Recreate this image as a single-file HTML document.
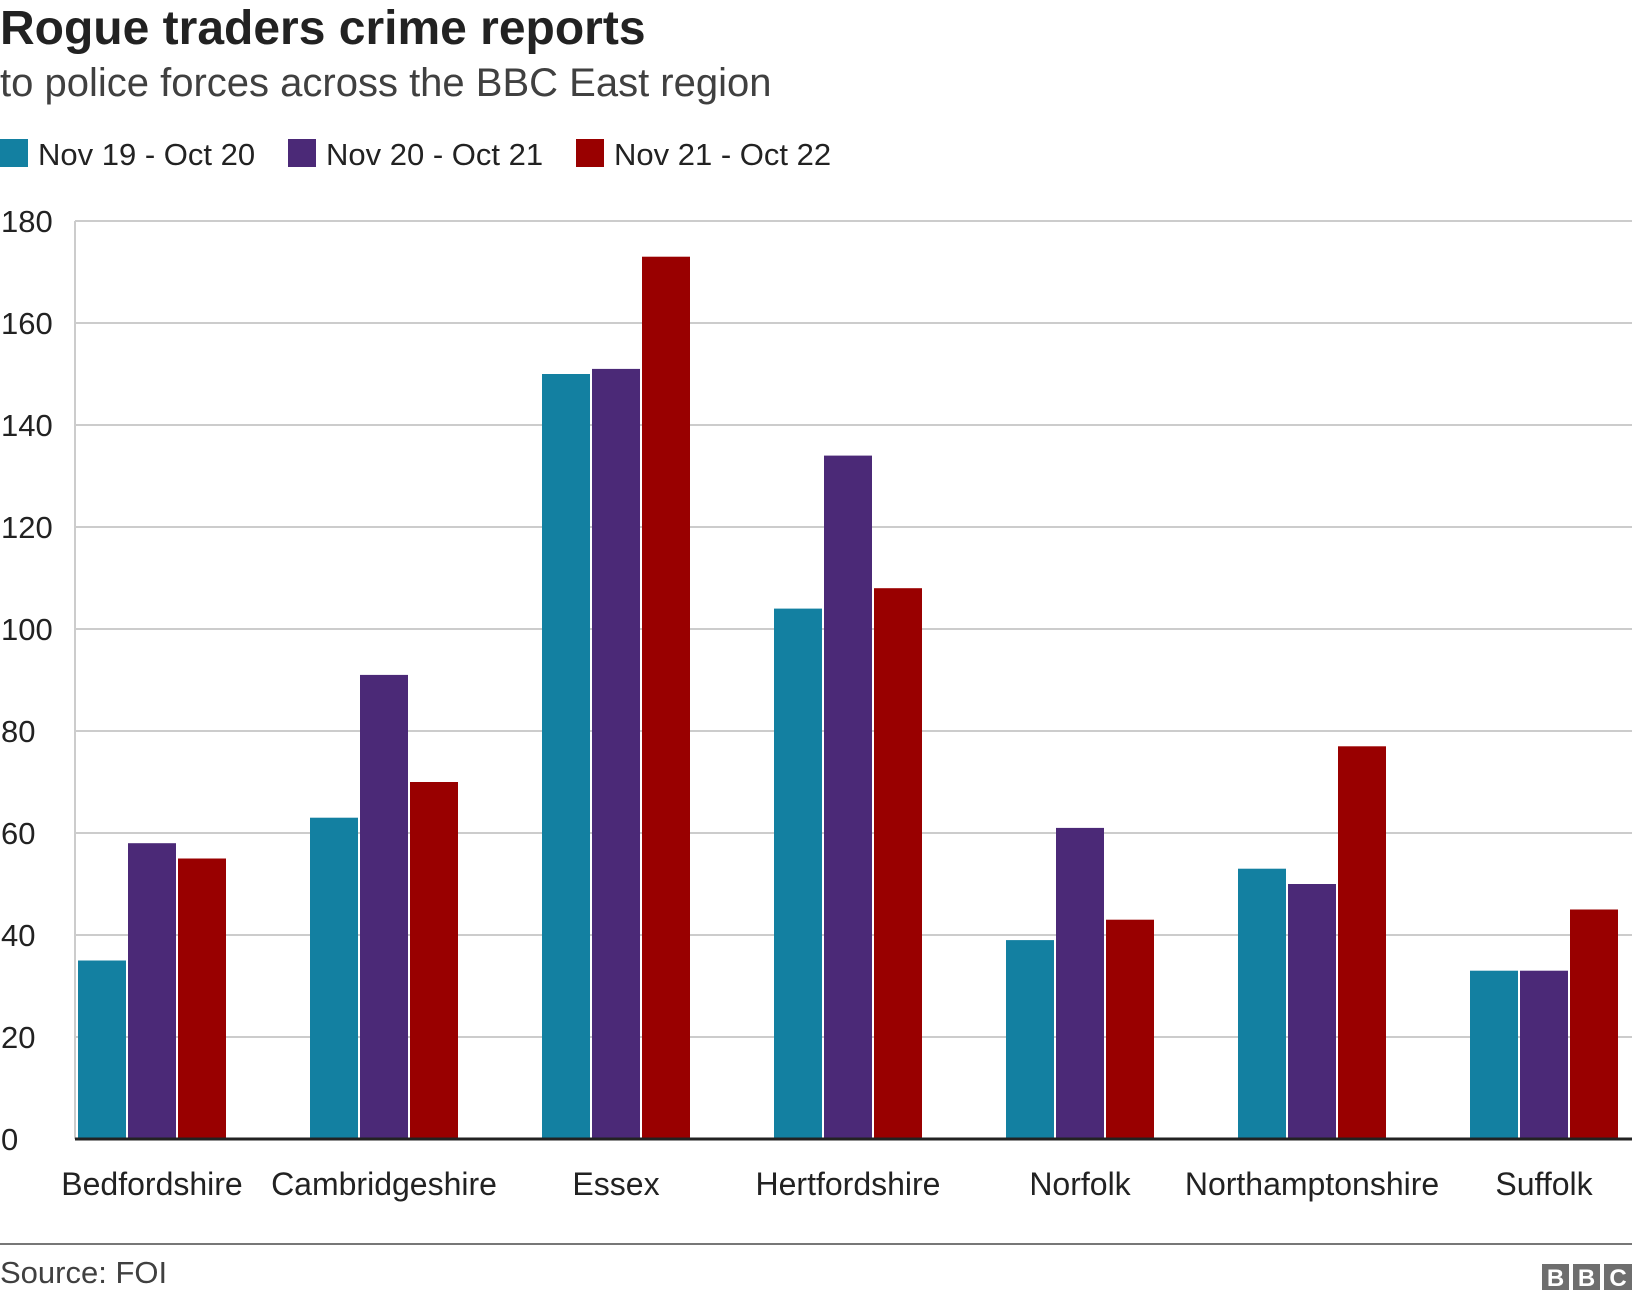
<!DOCTYPE html>
<html><head><meta charset="utf-8"><style>
body{margin:0;background:#fff;font-family:"Liberation Sans",Arial,sans-serif;}
svg text{font-family:"Liberation Sans",Arial,sans-serif;}
</style></head><body>
<svg id="c" width="1632" height="1300" viewBox="0 0 1632 1300">
<text x="0" y="44" font-size="48" font-weight="bold" fill="#222">Rogue traders crime reports</text>
<text x="0" y="96" font-size="40" fill="#404040">to police forces across the BBC East region</text>
<g id="legend"></g>
<g id="grid"></g>
<g id="bars"></g>
<g id="xlab"></g>
<line x1="0" y1="1244" x2="1632" y2="1244" stroke="#777" stroke-width="2"/>
<text x="0" y="1283" font-size="31" fill="#404040">Source: FOI</text>
<g>
<rect x="1542" y="1264" width="27" height="26" fill="#6e6e6e"/><text x="1555.5" y="1286" font-size="24" font-weight="bold" fill="#fff" text-anchor="middle">B</text>
<rect x="1573" y="1264" width="27" height="26" fill="#6e6e6e"/><text x="1586.5" y="1286" font-size="24" font-weight="bold" fill="#fff" text-anchor="middle">B</text>
<rect x="1604" y="1264" width="28" height="26" fill="#6e6e6e"/><text x="1618" y="1286" font-size="24" font-weight="bold" fill="#fff" text-anchor="middle">C</text>
</g>
</svg>
<script>
const categories=["Bedfordshire","Cambridgeshire","Essex","Hertfordshire","Norfolk","Northamptonshire","Suffolk"];
const seriesNames=["Nov 19 - Oct 20","Nov 20 - Oct 21","Nov 21 - Oct 22"];
const s1=[35,63,150,104,39,53,33];
const s2=[58,91,151,134,61,50,33];
const s3=[55,70,173,108,43,77,45];
const yTicks=[0,20,40,60,80,100,120,140,160,180];
const colors=["#1380a1","#4b2977","#990000"];
const NS="http://www.w3.org/2000/svg";
const y0=1139,yTop=221,yMax=180;
const y=v=>y0-(v/yMax)*(y0-yTop);
const groupX=i=>78+i*232;
const barW=48,gap=2;
function mk(t,a,p){const e=document.createElementNS(NS,t);for(const k in a)e.setAttribute(k,a[k]);p.appendChild(e);return e;}
const grid=document.getElementById('grid');
yTicks.forEach(t=>{
 if(t>0){const l=mk('line',{x1:75,x2:1632,y1:y(t),y2:y(t),stroke:'#cccccc','stroke-width':2},grid);
 
 }
 const tx=mk('text',{x:1,y:y(t)+11,'font-size':31,fill:'#222'},grid);tx.textContent=t;
 
 
});
const vl=mk('line',{x1:75,x2:75,y1:yTop,y2:y0,stroke:'#cccccc','stroke-width':2},grid);


const bars=document.getElementById('bars');
[s1,s2,s3].forEach((s,j)=>{s.forEach((v,i)=>{
 const r=mk('rect',{x:groupX(i)+j*(barW+gap),y:y(v),width:barW,height:y0-y(v),fill:colors[j]},bars);
 
 
});});
const base=mk('line',{x1:75,x2:1632,y1:y0,y2:y0,stroke:'#222','stroke-width':3},bars);


const xl=document.getElementById('xlab');
categories.forEach((c,i)=>{const t=mk('text',{x:groupX(i)+(3*barW+2*gap)/2,y:1195,'font-size':32,fill:'#222','text-anchor':'middle'},xl);t.textContent=c;
 
 });
const lg=document.getElementById('legend');
const lx=[0,288,576];
seriesNames.forEach((n,j)=>{
 const r=mk('rect',{x:lx[j],y:139,width:28,height:28,fill:colors[j]},lg);
 
 
 const t=mk('text',{x:lx[j]+38,y:165,'font-size':31,fill:'#222'},lg);t.textContent=n;
 
 
});
</script>
</body></html>
